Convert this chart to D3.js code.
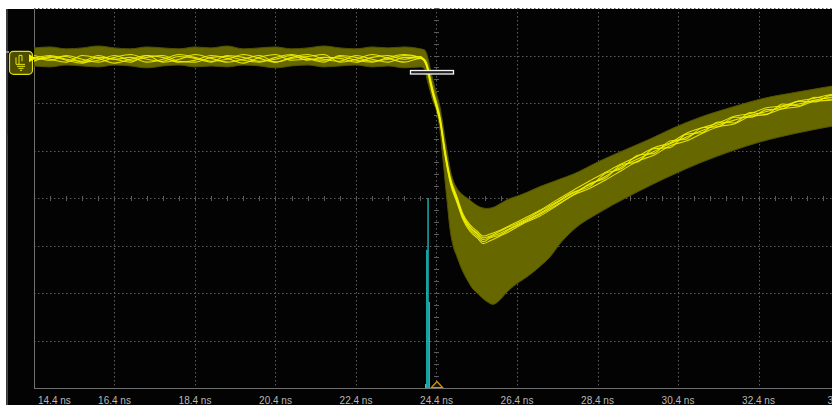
<!DOCTYPE html>
<html>
<head>
<meta charset="utf-8">
<script src="https://cdn.jsdelivr.net/npm/d3@7/dist/d3.min.js"></script>
<style>
  html, body { margin: 0; padding: 0; background: #ffffff; }
  svg { display: block; }
</style>
</head>
<body>
<svg id="scope" width="832" height="405"></svg>
<script>
// ---- horizontal axis (ns) ----
const timeTicks  = [14.4, 16.4, 18.4, 20.4, 22.4, 24.4, 26.4, 28.4, 30.4, 32.4, 34.4];
const tickLabels = ["14.4 ns", "16.4 ns", "18.4 ns", "20.4 ns", "22.4 ns", "24.4 ns",
                    "26.4 ns", "28.4 ns", "30.4 ns", "32.4 ns", "34.4 ns"];
// vertical graticule levels (mV, 50 mV/div)
const levelTicks = [-150, -100, -50, 0, 50, 100, 150];

// ---- persistence envelope of channel 1 (mV) ----
const envTime = [14.4,14.8,15.2,15.6,16.0,16.4,16.8,17.2,17.6,18.0,18.4,18.8,19.2,19.6,20.0,20.4,20.8,21.2,21.6,22.0,22.4,22.8,23.2,23.6,24.0,
                 24.1,24.17,24.24,24.31,24.41,24.49,24.55,24.61,24.66,24.74,24.81,24.91,25.06,25.16,25.31,25.41,25.65,25.8,25.98,26.15,
                 26.47,26.65,26.97,27.22,27.47,27.79,28.46,29.1,29.7,30.3,30.95,31.77,32.44,33.43,34.4];
const envHigh = [158,159,157,158,160,158,157,159,158,157,159,158,160,157,158,159,157,158,160,158,157,159,158,159,157,
                 156,150,137,124,108,95,80,63,50,30,19,10,3,0,-5,-8,-11,-10,-6,-2,
                 3,6,12,16,20,25,39,51,62,74,85,96,104,112,119];
const envLow  = [139,138,140,139,138,140,139,137,139,140,138,139,138,140,139,137,139,140,138,139,140,138,139,137,138,
                 136,124,113,102,90,70,45,19,-2,-34,-50,-62,-78,-86,-96,-100,-109,-112,-107,-99,
                 -88,-83,-72,-62,-48,-34,-15,0,13,25,37,50,59,69,77];

// ---- highlighted acquisitions (mV) ----
const traceTime = [14.4,14.8,15.2,15.6,16.0,16.4,16.8,17.2,17.6,18.0,18.4,18.8,19.2,19.6,20.0,20.4,20.8,21.2,21.6,22.0,22.4,22.8,23.2,23.6,24.0,
                   24.1,24.17,24.24,24.31,24.41,24.49,24.61,24.74,24.91,25.06,25.23,25.41,25.56,25.73,25.98,26.22,26.55,26.97,27.39,27.79,
                   28.2,28.6,29.0,29.4,29.8,30.2,30.6,31.0,31.4,31.8,32.2,32.6,33.0,33.4,33.8,34.2,34.4];
const traceA = [148,145,150,146,143,148,151,146,144,149,147,143,150,148,144,146,150,145,148,147,143,148,150,146,149,
                145,138,124,111,96,82,48,19,-2,-20,-31,-38,-44,-41,-37,-32,-25,-16,-5,5,
                14,23,33,41,49,57,64,71,77,82,87,91,96,99,103,106,107];
const traceB = [144,149,145,142,148,146,143,150,148,143,145,150,147,142,148,151,145,146,143,150,148,144,146,150,148,
                144,136,121,108,93,79,45,16,-5,-23,-35,-42,-48,-45,-40,-35,-27,-19,-8,3,
                10,19,29,39,45,55,60,68,75,78,86,88,94,96,102,103,106];
const traceC = [150,146,143,150,147,142,146,150,143,146,151,147,143,146,150,143,147,149,151,143,146,151,147,143,147,
                146,140,127,114,99,85,51,22,1,-17,-28,-35,-40,-38,-34,-29,-22,-13,-2,8,
                18,27,36,44,53,58,68,74,79,86,89,95,97,102,105,109,110];
const traceD = [147,150,146,144,150,146,148,143,146,151,148,144,146,151,147,143,148,151,146,144,150,146,143,148,147,
                144,137,123,110,95,81,47,18,-3,-21,-33,-40,-46,-42,-39,-33,-26,-17,-7,3,
                15,21,35,38,52,53,67,69,80,79,90,88,99,97,106,104,110];
const traceE = [145,148,149,143,145,150,145,148,150,144,143,148,149,145,143,148,151,147,145,149,145,143,148,151,148,
                145,139,125,112,97,83,49,20,-1,-19,-30,-37,-42,-40,-35,-30,-24,-14,-4,6,
                12,26,31,45,47,60,62,74,75,85,85,93,94,102,101,108,105];

// ---- edge-time histogram (hits per bin) ----
const histStart = [24.115, 24.145, 24.175, 24.205];
const histEnd   = [24.145, 24.175, 24.205, 24.235];
const histCount = [15, 520, 715, 324];

// ---- trigger ----
const triggerTime  = 24.4;   // ns
const triggerLevel = 133;    // mV
const channelMark  = 147;    // mV, channel 1 indicator

// ---------------------------------------------------------------
const W = 832, H = 405;
const plot = { left: 34, right: 839, top: 8, bottom: 388 };

const x = d3.scaleLinear().domain([14.4, 34.4]).range([plot.left, plot.right]);
const y = d3.scaleLinear().domain([-200, 200]).range([plot.bottom, plot.top]);
const hy = d3.scaleLinear().domain([0, 715]).range([0, 190]);

const svg = d3.select("#scope");

// screen background
svg.append("rect").attr("x", 0).attr("y", 0).attr("width", W).attr("height", H).attr("fill", "#ffffff");
svg.append("rect").attr("x", 6).attr("y", 9).attr("width", W - 6).attr("height", H - 9).attr("fill", "#030303");
// side rail
svg.append("rect").attr("x", 6).attr("y", 9).attr("width", 2).attr("height", 126).attr("fill", "#3a3a3a");
svg.append("rect").attr("x", 6.5).attr("y", 135).attr("width", 1.2).attr("height", H - 135).attr("fill", "#6a6a6a");
svg.append("rect").attr("x", 6).attr("y", 51).attr("width", 3).attr("height", 2).attr("fill", "#8a8a8a");

const clip = svg.append("defs").append("clipPath").attr("id", "plotClip");
clip.append("rect").attr("x", plot.left).attr("y", plot.top)
    .attr("width", plot.right - plot.left).attr("height", plot.bottom - plot.top);

// graticule
const grid = svg.append("g").attr("clip-path", "url(#plotClip)");
grid.selectAll("line.v").data(timeTicks.slice(1)).join("line")
    .attr("x1", d => Math.round(x(d)) + 0.5).attr("x2", d => Math.round(x(d)) + 0.5)
    .attr("y1", plot.top).attr("y2", plot.bottom)
    .attr("stroke", "#5c5c5c").attr("stroke-width", 1).attr("stroke-dasharray", "1.5,2.5");
grid.selectAll("line.h").data(levelTicks.concat([200])).join("line")
    .attr("x1", plot.left).attr("x2", plot.right)
    .attr("y1", d => Math.round(y(d)) + 0.5).attr("y2", d => Math.round(y(d)) + 0.5)
    .attr("stroke", "#5c5c5c").attr("stroke-width", 1).attr("stroke-dasharray", "1.5,2.5");

// minor ticks on the centre lines
const xMinor = d3.range(14.4, 34.4001, 0.4);
const yMinor = d3.range(-200, 200.001, 12.5);
grid.selectAll("line.xm").data(xMinor).join("line")
    .attr("x1", d => Math.round(x(d)) + 0.5).attr("x2", d => Math.round(x(d)) + 0.5)
    .attr("y1", Math.round(y(0)) - 2).attr("y2", Math.round(y(0)) + 3)
    .attr("stroke", "#5c5c5c").attr("stroke-width", 1);
grid.selectAll("line.ym").data(yMinor).join("line")
    .attr("x1", Math.round(x(triggerTime)) - 2).attr("x2", Math.round(x(triggerTime)) + 3)
    .attr("y1", d => Math.round(y(d)) + 0.5).attr("y2", d => Math.round(y(d)) + 0.5)
    .attr("stroke", "#5c5c5c").attr("stroke-width", 1);

// frame (left and bottom)
svg.append("line").attr("x1", plot.left + 0.5).attr("x2", plot.left + 0.5)
   .attr("y1", 9).attr("y2", plot.bottom + 0.5).attr("stroke", "#707070");
svg.append("line").attr("x1", plot.left).attr("x2", W)
   .attr("y1", plot.bottom + 0.5).attr("y2", plot.bottom + 0.5).attr("stroke", "#707070");

// waveform layer
const wave = svg.append("g").attr("clip-path", "url(#plotClip)");

const envData = envTime.map((t, i) => ({ t, hi: envHigh[i], lo: envLow[i] }));
const area = d3.area().x(d => x(d.t)).y0(d => y(d.lo)).y1(d => y(d.hi)).curve(d3.curveMonotoneX);
wave.append("path").datum(envData).attr("d", area)
    .attr("fill", "#676700").attr("stroke", "#525200").attr("stroke-width", 1);

const line = d3.line().x(d => x(d.t)).y(d => y(d.v)).curve(d3.curveMonotoneX);
[traceB, traceD, traceE, traceC, traceA].forEach(tr => {
  wave.append("path")
      .datum(traceTime.map((t, i) => ({ t, v: tr[i] })))
      .attr("d", line).attr("fill", "none")
      .attr("stroke", "#f2f200").attr("stroke-width", 1.1).attr("stroke-opacity", 0.9);
});

// histogram
const histData = histStart.map((s, i) => ({ s, e: histEnd[i], n: histCount[i] }));
wave.selectAll("rect.hist").data(histData).join("rect")
    .attr("x", d => x(d.s)).attr("width", d => x(d.e) - x(d.s))
    .attr("y", d => plot.bottom - hy(d.n)).attr("height", d => hy(d.n))
    .attr("fill", "#22d3d3");

// trigger level indicator
const ty = Math.round(y(triggerLevel));
const tx = x(triggerTime);
svg.append("rect").attr("x", tx - 26).attr("y", ty - 1.5).attr("width", 43).attr("height", 3.5)
   .attr("fill", "#202020").attr("stroke", "#f4f4f4").attr("stroke-width", 1.3);

// trigger position marker
svg.append("path")
   .attr("d", `M${tx - 5},${plot.bottom - 0.5} L${tx + 0.5},${plot.bottom - 6.5} L${tx + 6},${plot.bottom - 0.5} Z`)
   .attr("fill", "#1a1200").attr("stroke", "#d89400").attr("stroke-width", 1.2);

// channel 1 indicator
const cy = y(channelMark);
const badge = svg.append("g");
badge.append("rect").attr("x", 9.5).attr("y", cy - 7).attr("width", 23).attr("height", 23).attr("rx", 4)
     .attr("fill", "#4d4d00").attr("stroke", "#dede10").attr("stroke-width", 1.2);
badge.append("path").attr("d", `M${29},${cy - 4} L${36},${cy} L${29},${cy + 4} Z`).attr("fill", "#f2f200");
badge.append("path")
     .attr("d", `M19,${cy - 3} L19,${cy + 6} M16,${cy - 1} L16,${cy + 6} M16,${cy + 6} L25,${cy + 6}
                 M17,${cy + 8} L25,${cy + 8} M18.5,${cy + 10} L23.5,${cy + 10} M20,${cy + 12} L22,${cy + 12}
                 M19,${cy - 3} L22,${cy - 3} L22,${cy + 3}`)
     .attr("fill", "none").attr("stroke", "#e6e610").attr("stroke-width", 1);

// time labels (the first one is kept inside the frame, the last one runs past the screen edge)
svg.append("g").selectAll("text").data(timeTicks).join("text")
   .attr("x", (d, i) => i === 0 ? plot.left + 4 : (i === timeTicks.length - 1 ? x(d) + 5 : x(d)))
   .attr("y", 404)
   .attr("text-anchor", (d, i) => i === 0 ? "start" : "middle")
   .attr("font-family", "'Liberation Sans', Arial, sans-serif")
   .attr("font-size", 10)
   .attr("fill", "#b8b8b8")
   .text((d, i) => tickLabels[i]);
</script>
</body>
</html>
